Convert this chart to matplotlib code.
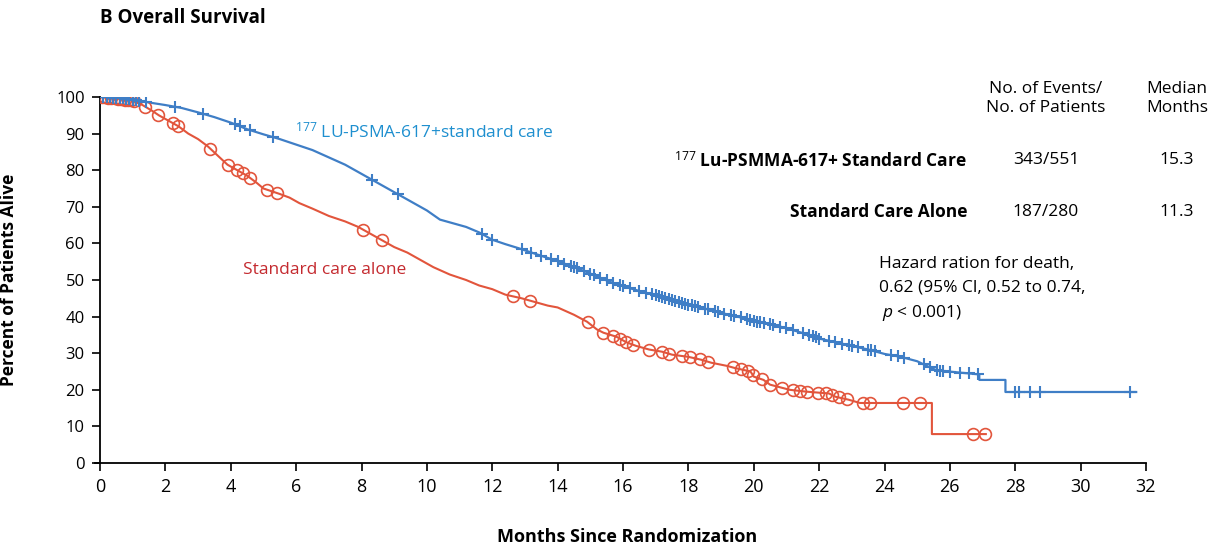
import numpy as np
import matplotlib
matplotlib.use("Agg")
import matplotlib.pyplot as plt
from matplotlib import font_manager

# ---------------- data ----------------
# Kaplan-Meier curve knots (repeated time = vertical drop)
blue_t = [0, 0.5, 1.0, 1.5, 2.0, 2.5, 3.0, 3.5, 4.0, 4.5, 5.0, 5.5, 6.0, 6.5, 7.0, 7.5,
          8.0, 8.4, 8.8, 9.2, 9.6, 10.0, 10.4, 10.8, 11.2, 11.6, 12.0, 12.4, 12.8, 13.2,
          13.6, 14.0, 14.4, 14.8, 15.2, 15.6, 16.0, 16.5, 17.0, 17.5, 18.0, 18.5, 19.0,
          19.5, 20.0, 20.5, 21.0, 21.5, 22.0, 22.5, 23.0, 23.5, 24.0, 24.5, 25.0, 25.3,
          25.6, 26.9, 26.9, 27.7, 27.7, 31.7]
blue_s = [100, 99.8, 99.3, 98.5, 97.8, 97.0, 95.8, 94.5, 93.0, 91.2, 89.8, 88.5, 87.0,
          85.5, 83.5, 81.5, 79.0, 77.0, 75.0, 73.0, 71.0, 69.0, 66.5, 65.5, 64.5, 63.0,
          61.0, 59.8, 58.7, 57.5, 56.3, 55.2, 53.8, 52.5, 51.0, 49.5, 48.3, 47.0, 45.8,
          44.6, 43.3, 42.2, 41.0, 40.0, 38.8, 38.0, 36.8, 35.5, 34.0, 33.0, 32.0, 31.0,
          29.8, 29.0, 27.8, 26.5, 25.3, 24.2, 22.7, 22.7, 19.4, 19.4]
blue_cens = [0.1, 0.2, 0.3, 0.4, 0.5, 0.6, 0.7, 0.8, 0.9, 1.0, 1.1, 1.2, 1.4, 2.3, 3.15,
             4.13, 4.28, 4.59, 5.3, 8.32, 9.12, 11.7, 12.0, 12.9, 13.2, 13.5, 13.8, 14.0,
             14.2, 14.4, 14.5, 14.6, 14.8, 15.0, 15.1, 15.3, 15.5, 15.7, 15.9, 16.0, 16.2,
             16.5, 16.7, 16.9, 17.0, 17.1, 17.2, 17.3, 17.4, 17.5, 17.6, 17.7, 17.8, 17.9,
             18.0, 18.1, 18.2, 18.3, 18.5, 18.6, 18.8, 18.9, 19.1, 19.3, 19.4, 19.6, 19.8,
             19.9, 20.0, 20.1, 20.2, 20.3, 20.5, 20.6, 20.8, 21.0, 21.2, 21.5, 21.7, 21.8,
             21.9, 22.0, 22.3, 22.5, 22.7, 22.9, 23.0, 23.2, 23.5, 23.6, 23.7, 24.2, 24.4,
             24.6, 25.2, 25.4, 25.6, 25.7, 25.8, 26.0, 26.3, 26.6, 26.85, 28.0, 28.1, 28.45,
             28.75, 31.5]

red_t = [0, 0.5, 1.0, 1.3, 1.6, 1.8, 2.1, 2.4, 2.7, 3.0, 3.3, 3.6, 3.9, 4.2, 4.5, 4.8,
         5.0, 5.5, 5.8, 6.1, 6.5, 7.0, 7.5, 7.9, 8.3, 8.7, 9.0, 9.4, 9.8, 10.2, 10.7, 11.2,
         11.6, 12.0, 12.4, 12.9, 13.3, 13.7, 14.0, 14.5, 14.9, 15.2, 15.4, 15.8, 16.1, 16.4,
         16.8, 17.2, 17.5, 18.0, 18.4, 18.7, 19.2, 19.4, 19.9, 20.0, 20.3, 20.5, 21.1, 21.6,
         22.3, 22.5, 22.9, 23.25, 25.45, 25.45, 27.1]
red_s = [100, 99.6, 99.0, 97.8, 96.2, 95.0, 93.5, 92.0, 90.0, 88.5, 86.5, 84.0, 81.5,
         80.0, 78.5, 76.5, 75.0, 73.5, 72.5, 71.0, 69.5, 67.5, 66.0, 64.5, 62.5, 60.5, 59.0,
         57.5, 55.5, 53.5, 51.5, 50.0, 48.5, 47.5, 46.0, 45.0, 44.0, 43.0, 42.5, 40.5, 38.6,
         36.5, 35.6, 34.5, 33.0, 32.0, 31.0, 30.4, 29.6, 29.0, 28.2, 27.4, 26.5, 26.0, 25.0,
         23.6, 22.7, 21.4, 20.0, 19.5, 19.0, 18.1, 17.3, 16.4, 16.4, 7.9, 7.9]
red_cens = [0.05, 0.15, 0.25, 0.35, 0.45, 0.55, 0.65, 0.75, 0.85, 0.95, 1.05, 1.38, 1.77,
            2.23, 2.39, 3.37, 3.92, 4.19, 4.37, 4.59, 5.1, 5.4, 8.05, 8.63, 12.63, 13.15,
            14.93, 15.4, 15.7, 15.9, 16.1, 16.3, 16.8, 17.2, 17.4, 17.8, 18.05, 18.35, 18.6,
            19.36, 19.6, 19.82, 19.97, 20.25, 20.5, 20.86, 21.2, 21.4, 21.63, 21.96, 22.2,
            22.4, 22.6, 22.85, 23.34, 23.55, 24.56, 25.1, 26.7, 27.07]

x_ticks = list(range(0, 33, 2))
y_ticks = list(range(0, 101, 10))

col_headers = ["No. of Events/\nNo. of Patients", "Median\nMonths"]
row_names = [r"$^{177}$ Lu-PSMMA-617+ Standard Care", "Standard Care Alone"]
row_events = ["343/551", "187/280"]
row_median = ["15.3", "11.3"]

# ---------------- style ----------------
names = {f.name for f in font_manager.fontManager.ttflist}
MAIN = "Open Sans" if "Open Sans" in names else "DejaVu Sans"
plt.rcParams["font.family"] = [MAIN, "DejaVu Sans"]
plt.rcParams["mathtext.fontset"] = "custom"
plt.rcParams["mathtext.rm"] = MAIN
plt.rcParams["mathtext.it"] = MAIN + ":italic"
plt.rcParams["mathtext.bf"] = MAIN + ":bold"

BLUE = "#3f7ec6"
BLUE_TXT = "#1e8fcf"
RED = "#e2553c"
RED_TXT = "#c42a2f"

W, H = 1220, 550
fig = plt.figure(figsize=(W / 100, H / 100), dpi=100)
ax = fig.add_axes([100 / W, 1 - 463 / H, (1146 - 100) / W, (463 - 97) / H])

# curves
ax.plot(blue_t, blue_s, color=BLUE, lw=1.6, zorder=3)
ax.plot(red_t, red_s, color=RED, lw=1.5, zorder=2)

# censor marks placed on the curves
ax.plot(blue_cens, np.interp(blue_cens, blue_t, blue_s), linestyle="none", marker="+",
        ms=9, mew=1.5, color=BLUE, zorder=4)
ax.plot(red_cens, np.interp(red_cens, red_t, red_s), linestyle="none", marker="o",
        ms=8.5, mfc="none", mew=1.2, color=RED, zorder=3)

ax.set_xlim(0, 32)
ax.set_ylim(0, 100)
ax.set_xticks(x_ticks)
ax.set_yticks(y_ticks)
ax.set_xticklabels([str(v) for v in x_ticks], fontsize=13)
ax.set_yticklabels([str(v) for v in y_ticks], fontsize=12)
ax.tick_params(axis="both", direction="out", length=6, width=1.2, color="black", pad=5)
for s in ["top", "right"]:
    ax.spines[s].set_visible(False)
for s in ["left", "bottom"]:
    ax.spines[s].set_linewidth(1.3)
ax.spines["bottom"].set_bounds(-0.15, 32)

ax.set_ylabel("Percent of Patients Alive", fontsize=12.5, fontweight="bold")
ax.yaxis.set_label_coords(-82 / 1046, 0.5)
ax.set_xlabel("Months Since Randomization", fontsize=13, fontweight="bold", va="center")
ax.xaxis.set_label_coords((627 - 100) / 1046, -(537 - 463) / 366)

# curve labels
ax.text(5.97, 90.6, r"$^{177}$ LU-PSMA-617+standard care", color=BLUE_TXT, fontsize=12.5,
        va="center", ha="left")
ax.text(4.37, 52.6, "Standard care alone", color=RED_TXT, fontsize=12.5, va="center",
        ha="left")


def ftxt(x, y, s, **kw):
    fig.text(x / W, 1 - y / H, s, **kw)


ftxt(100, 18, "B Overall Survival", fontsize=13.5, fontweight="bold", va="center", ha="left")

ftxt(1046, 99, col_headers[0], fontsize=12.5, ha="center", va="center", linespacing=1.25)
ftxt(1177, 99, col_headers[1], fontsize=12.5, ha="center", va="center", linespacing=1.25)

for i, yy in enumerate([160, 212]):
    ftxt(967, yy, row_names[i], fontsize=12.5, fontweight="bold", ha="right", va="center")
    ftxt(1046, yy, row_events[i], fontsize=12.5, ha="center", va="center")
    ftxt(1177, yy, row_median[i], fontsize=12.5, ha="center", va="center")

ftxt(879, 264, "Hazard ration for death,", fontsize=12.5, ha="left", va="center")
ftxt(879, 288, "0.62 (95% Cl, 0.52 to 0.74,", fontsize=12.5, ha="left", va="center")
ftxt(882, 313, r"$\it{p}$ < 0.001)", fontsize=12.5, ha="left", va="center")

fig.savefig("out.png", dpi=100)
